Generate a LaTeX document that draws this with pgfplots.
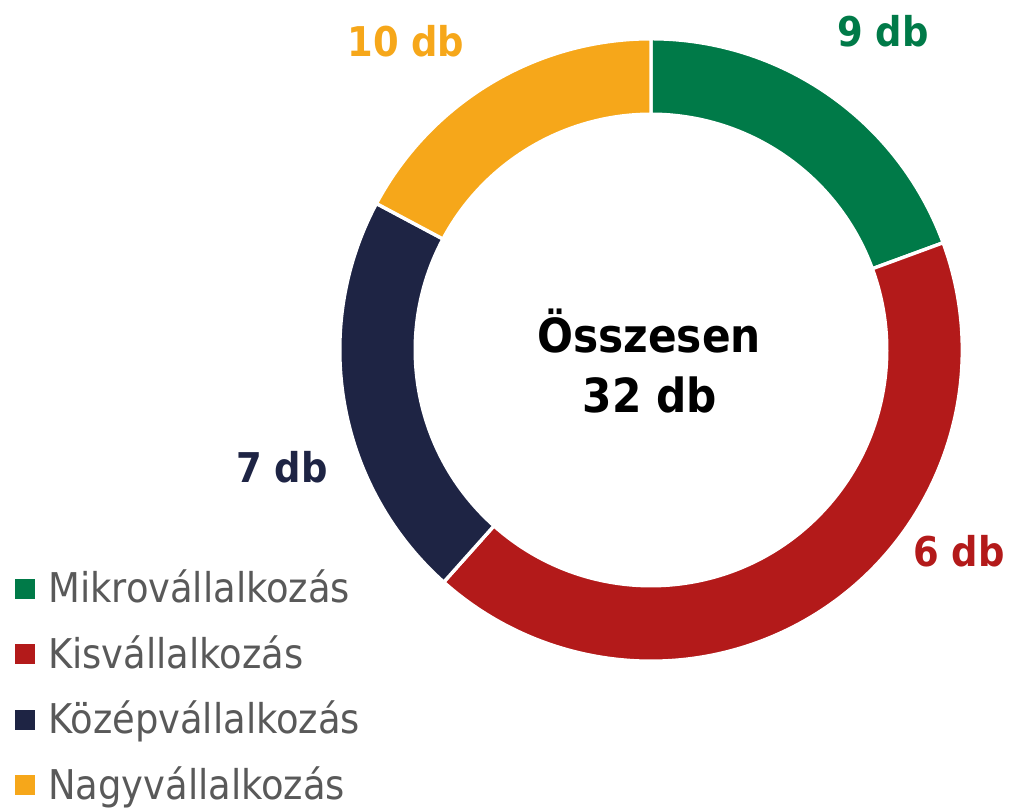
\documentclass[border=0pt]{standalone}
\usepackage{pgfplots}
\usepackage{pgfplotstable}
\pgfplotsset{compat=1.18}
\usepackage{fontspec}
\setmainfont{DejaVu Sans Condensed}
\newfontfamily\lblfont{DejaVu Sans Condensed}[BoldFont={DejaVu Sans Condensed Bold}]
\definecolor{mikro}{HTML}{007A48}
\definecolor{kis}{HTML}{B31A1A}
\definecolor{kozep}{HTML}{1E2444}
\definecolor{nagy}{HTML}{F6A71A}
\definecolor{legtext}{HTML}{595959}

% share of the ring (per cent), clockwise from 12 o'clock
\pgfplotstableread{
share colour
19.4 mikro
42.2 kis
21.2 kozep
17.2 nagy
}\slices

\begin{document}
\begin{tikzpicture}
\useasboundingbox (0,0) rectangle (505pt,403.5pt);
\begin{axis}[
  at={(0,0)}, anchor=origin,
  x=0.5pt, y=0.5pt,
  xmin=0, xmax=1010, ymin=0, ymax=807,
  hide axis, clip=false,
  legend style={at={(axis cs:15.5,234)}, anchor=north west, draw=none, fill=none,
    inner sep=0pt, outer sep=0pt, row sep=13.7pt, column sep=6.5pt,
    font=\fontsize{20.5}{24}\selectfont, text=legtext,
    nodes={inner sep=0pt, text height=15pt, text depth=4pt}},
  legend cell align=left,
  legend image code/.code={\fill[#1] (0pt,-3.25pt) rectangle (9.5pt,6.25pt);},
]
\pgfplotstablegetrowsof{\slices}
\pgfmathtruncatemacro\lastrow{\pgfplotsretval-1}
\def\startang{90}
\pgfplotsforeachungrouped \i in {0,...,\lastrow}{%
  \pgfplotstablegetelem{\i}{share}\of\slices \let\sh\pgfplotsretval
  \pgfplotstablegetelem{\i}{colour}\of\slices \let\col\pgfplotsretval
  \pgfmathsetmacro\endang{\startang-3.6*\sh}%
  \edef\temp{\noexpand\fill[\col, draw=white, line width=1.7pt]
    ([shift={(\startang:155.6pt)}]axis cs:651,457)
    arc[start angle=\startang, end angle=\endang, radius=155.6pt]
    -- ([shift={(\endang:117.9pt)}]axis cs:651,457)
    arc[start angle=\endang, end angle=\startang, radius=117.9pt] -- cycle;}%
  \temp
  \global\let\startang\endang
}
\addlegendimage{mikro}\addlegendentry{Mikrovállalkozás}
\addlegendimage{kis}\addlegendentry{Kisvállalkozás}
\addlegendimage{kozep}\addlegendentry{Középvállalkozás}
\addlegendimage{nagy}\addlegendentry{Nagyvállalkozás}

\node[anchor=base west, text=mikro, font=\lblfont\bfseries\fontsize{20.5}{24}\selectfont, inner sep=0pt] at (axis cs:837,760) {9 db};
\node[anchor=base west, text=nagy, font=\lblfont\bfseries\fontsize{20.5}{24}\selectfont, inner sep=0pt] at (axis cs:347,750) {10 db};
\node[anchor=base west, text=kozep, font=\lblfont\bfseries\fontsize{20.5}{24}\selectfont, inner sep=0pt] at (axis cs:236,324) {7 db};
\node[anchor=base west, text=kis, font=\lblfont\bfseries\fontsize{20.5}{24}\selectfont, inner sep=0pt] at (axis cs:913,240) {6 db};
\node[anchor=base, text=black, font=\lblfont\bfseries\fontsize{23.5}{26}\selectfont, inner sep=0pt] at (axis cs:649,454) {Összesen};
\node[anchor=base, text=black, font=\lblfont\bfseries\fontsize{23.5}{26}\selectfont, inner sep=0pt] at (axis cs:650,394) {32 db};
\end{axis}
\end{tikzpicture}
\end{document}
